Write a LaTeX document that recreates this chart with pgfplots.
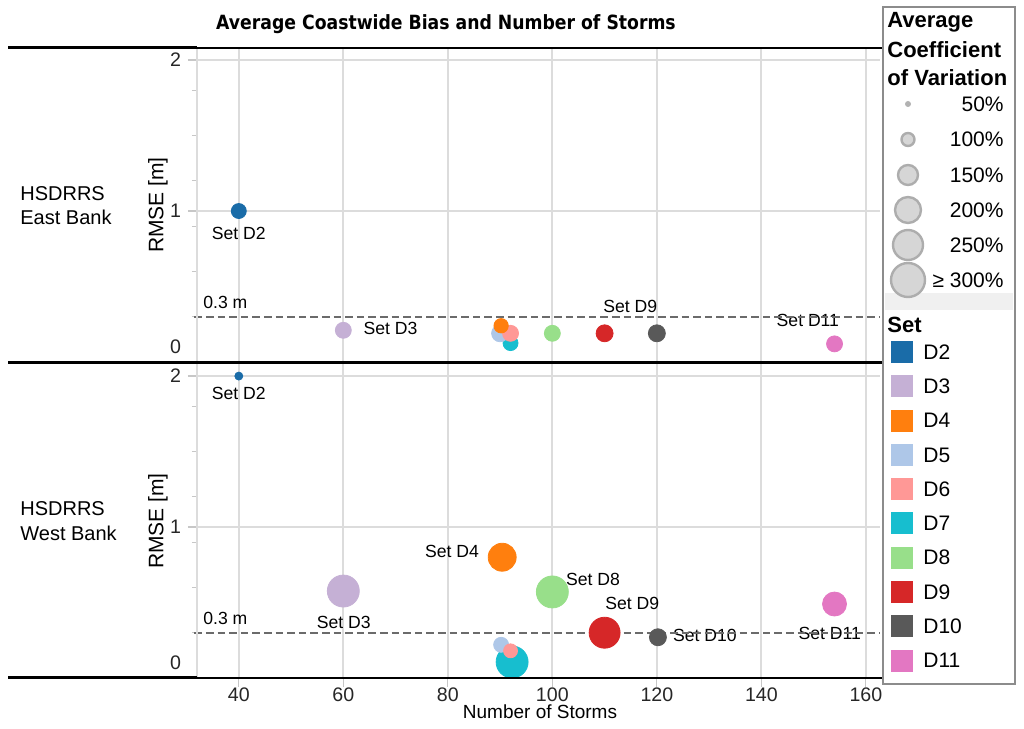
\documentclass[border=0pt]{standalone}
\usepackage{fontspec}
\setmainfont{Liberation Sans}
\newfontfamily\titlefont[FakeStretch=0.88]{DejaVu Sans}
\usepackage{pgfplots}
\pgfplotsset{compat=1.18}
\definecolor{cD2}{HTML}{1A6CA8}
\definecolor{cD3}{HTML}{C5B0D5}
\definecolor{cD4}{HTML}{FF7F0E}
\definecolor{cD5}{HTML}{AEC7E8}
\definecolor{cD6}{HTML}{FF9896}
\definecolor{cD7}{HTML}{17BECF}
\definecolor{cD8}{HTML}{98DF8A}
\definecolor{cD9}{HTML}{D62728}
\definecolor{cD10}{HTML}{595959}
\definecolor{cD11}{HTML}{E377C2}
\definecolor{gridc}{HTML}{DCDCDC}
\newcommand\bub[4]{\addplot[only marks, mark=*, mark size=#4pt, color=#1, forget plot] coordinates {(#2,#3)};}
\pgfplotsset{panel/.style={
  width=341.5pt, height=157pt, scale only axis, anchor=south west,
  xmin=32, xmax=162.7, ymin=0, ymax=2.08,
  axis line style={draw=none},
  xtick={40,60,...,160},
  ytick={1,2},
  minor ytick={0.3,0.6,0.9,1.2,1.5,1.8},
  extra y ticks={0},
  extra y tick style={yticklabel style={yshift=7.5pt}},
  grid=major,
  major grid style={draw=gridc, line width=0.9pt},
  tick align=outside, tick pos=left,
  major tick length=4.5pt, minor tick length=2.5pt,
  tick style={draw=black!22, line width=0.6pt},
  ticklabel style={font=\fontsize{9.8}{11}\selectfont, text=black!85},
  xticklabel style={yshift=3pt},
  /pgf/number format/assume math mode=true,
  clip=false,
  ylabel={RMSE [m]},
  ylabel style={font=\fontsize{10.5}{12}\selectfont, at={(axis description cs:-0.057,0.5)}, anchor=center},
}}
\tikzset{lab/.style={inner sep=0pt, text height=0.716em, text depth=0pt},
  sl/.style={lab, font=\fontsize{8.8}{10}\selectfont},
  ref/.style={draw=black!58, line width=0.85pt, dash pattern=on 3.8pt off 2pt}}
\begin{document}
\begin{tikzpicture}
\path[use as bounding box] (0,0) rectangle (512pt,364.5pt);
% top panel
\begin{axis}[panel, at={(98.5pt,183.5pt)}, xticklabels={}, xtick style={draw=none}]
\bub{cD2}{40}{1.0}{3.75}
\bub{cD3}{60}{0.21}{4}
\bub{cD7}{92}{0.125}{3.75}
\bub{cD5}{90}{0.19}{4.25}
\bub{cD6}{92}{0.19}{4}
\bub{cD4}{90.2}{0.24}{3.6}
\bub{cD8}{100}{0.19}{4}
\bub{cD9}{110}{0.19}{4.25}
\bub{cD10}{120}{0.19}{4.25}
\bub{cD11}{154}{0.12}{4}
\node[sl, anchor=west] at (axis cs:33.15,0.40) {0.3 m};
\node[sl] at (axis cs:40,0.86) {Set D2};
\node[sl, anchor=west] at (axis cs:63.8,0.23) {Set D3};
\node[sl] at (axis cs:114.9,0.377) {Set D9};
\node[sl] at (axis cs:148.9,0.285) {Set D11};
\addplot[forget plot, ref] coordinates {(31.5,0.3) (162.7,0.3)};
\end{axis}
% bottom panel
\begin{axis}[panel, at={(98.5pt,25.5pt)}]
\bub{cD2}{40}{2.0}{2}
\bub{cD3}{60}{0.576}{8}
\bub{cD4}{90.4}{0.80}{7}
\bub{cD7}{92.3}{0.106}{8}
\bub{cD5}{90.2}{0.22}{3.75}
\bub{cD6}{92}{0.18}{3.5}
\bub{cD8}{100}{0.57}{8}
\bub{cD9}{110}{0.30}{7.75}
\bub{cD10}{120.2}{0.27}{4.25}
\bub{cD11}{154}{0.49}{6}
\node[sl, anchor=west] at (axis cs:33.15,0.40) {0.3 m};
\node[sl] at (axis cs:40,1.894) {Set D2};
\node[sl] at (axis cs:60.1,0.377) {Set D3};
\node[sl] at (axis cs:80.8,0.848) {Set D4};
\node[sl] at (axis cs:107.8,0.662) {Set D8};
\node[sl] at (axis cs:115.3,0.503) {Set D9};
\node[sl] at (axis cs:129.2,0.291) {Set D10};
\node[sl] at (axis cs:153.1,0.305) {Set D11};
\addplot[forget plot, ref] coordinates {(31.5,0.3) (162.7,0.3)};
\end{axis}
\begin{scope}[x=0.5pt, y=-0.5pt, shift={(0pt,364.5pt)}]
% frame lines
\draw[gridc, line width=0.9pt] (197,48) -- (197,678);
\draw[black, line width=1.5pt] (8,48) -- (197,48);
\draw[black, line width=0.8pt] (197,48) -- (882,48);
\draw[black, line width=1.5pt] (8,362.5) -- (882,362.5);
\draw[black, line width=1.5pt] (8,678) -- (197,678);
\draw[black, line width=0.8pt] (197,678) -- (882,678);
% title and labels
\node[lab, font=\titlefont\bfseries\fontsize{9.8}{12}\selectfont] at (446,22) {Average Coastwide Bias and Number of Storms};
\node[lab, font=\fontsize{9.5}{11}\selectfont] at (540,711) {Number of Storms};
\node[lab, anchor=west, font=\fontsize{10}{12}\selectfont] at (20,193) {HSDRRS};
\node[lab, anchor=west, font=\fontsize{10}{12}\selectfont] at (20,217) {East Bank};
\node[lab, anchor=west, font=\fontsize{10}{12}\selectfont] at (20,508) {HSDRRS};
\node[lab, anchor=west, font=\fontsize{10}{12}\selectfont] at (20,533) {West Bank};
% legend
\fill[black!6] (885,293) rectangle (1013,310);
\draw[black!45, line width=0.9pt] (883,7) rectangle (1015,684);
\node[lab, anchor=west, font=\bfseries\fontsize{11}{13}\selectfont] at (887,20) {Average};
\node[lab, anchor=west, font=\bfseries\fontsize{11}{13}\selectfont] at (887,50) {Coefficient};
\node[lab, anchor=west, font=\bfseries\fontsize{11}{13}\selectfont] at (887,78) {of Variation};
\fill[black!30] (908,104) circle[radius=3];
\foreach \yy/\rr/\tt in {139.5/6.5/100\%, 175/10/150\%, 210/13/200\%, 245/15/250\%, 280/17/{≥ 300\%}} {
  \draw[draw=black!32, fill=black!16, line width=1.2pt] (908,\yy) circle[radius=\rr];
  \node[lab, anchor=east, font=\fontsize{10.5}{12}\selectfont] at (1004,\yy) {\tt};
}
\node[lab, anchor=east, font=\fontsize{10.5}{12}\selectfont] at (1004,104) {50\%};
\node[lab, anchor=west, font=\bfseries\fontsize{11}{13}\selectfont] at (887,325) {Set};
\foreach \i/\c in {0/D2,1/D3,2/D4,3/D5,4/D6,5/D7,6/D8,7/D9,8/D10,9/D11} {
  \pgfmathsetmacro\yy{352+34.3*\i}
  \fill[c\c] (891,\yy-11) rectangle (913,\yy+11);
  \node[lab, anchor=west, font=\fontsize{10.5}{12}\selectfont] at (923,\yy) {\c};
}
\end{scope}
\end{tikzpicture}
\end{document}
